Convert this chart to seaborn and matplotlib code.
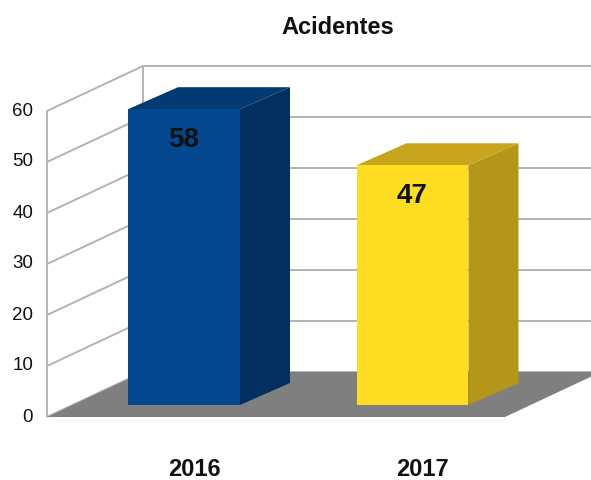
import numpy as np
import pandas as pd
import matplotlib
matplotlib.use('Agg')
from matplotlib import pyplot as plt
from matplotlib.patches import Polygon
import seaborn as sns

# data
years = ['2016', '2017']
accidents = [58, 47]
bar_colors = ['#03488f', '#fddc22']
side_colors = ['#022f5f', '#b69619']
top_colors = ['#033a73', '#c8a51c']
y_ticks = [0, 10, 20, 30, 40, 50, 60]
title = 'Acidentes'

sns.set_style('white')
plt.rcParams['font.family'] = ['Liberation Sans', 'DejaVu Sans']

W, H = 591, 480
fig = plt.figure(figsize=(W / 100, H / 100), dpi=100)
ax = fig.add_axes([0, 0, 1, 1])

df = pd.DataFrame({'year': years, 'n': accidents})
sns.barplot(data=df, x='year', y='n', hue='year', palette=bar_colors,
            saturation=1, width=0.49, legend=False, ax=ax, zorder=4,
            edgecolor='none', linewidth=0)

# pixel scale of the pseudo 3d frame
px_x = 228.5      # pixels per category step
px_v = 5.1        # pixels per unit
x0_pix, v0_pix = 184, 405
ax.set_xlim(-x0_pix / px_x, (W - x0_pix) / px_x)
ax.set_ylim((v0_pix - H) / px_v, v0_pix / px_v)
ax.axis('off')

DX, DY = 96 / px_x, 45 / px_v        # full depth of the box
d0 = 12 / 45                          # depth of the bar front faces
bdx, bdy = 50 / px_x, 22 / px_v       # depth of the bars
XL = (47 - x0_pix) / px_x + d0 * DX   # left wall (front plane)
XR = (505 - x0_pix) / px_x + d0 * DX  # right end of the floor front
vmax = max(y_ticks)


def pt(x, v, d):
    return (x + (d - d0) * DX, v + (d - d0) * DY)


grid_kw = dict(color='#b3b3b3', lw=1.4, zorder=1, solid_capstyle='butt')
for v in y_ticks:
    a, b, c = pt(XL, v, 0), pt(XL, v, 1), pt(XR + 3, v, 1)
    ax.plot([a[0], b[0], c[0]], [a[1], b[1], c[1]], **grid_kw)
    ax.text(a[0] - 14 / px_x, a[1], str(v), ha='right', va='center',
            fontsize=13.5, color='#111111')
for d in (0, 1):
    a, b = pt(XL, 0, d), pt(XL, vmax, d)
    ax.plot([a[0], b[0]], [a[1], b[1]], **grid_kw)

floor = [pt(XL, 0, 0), pt(XR, 0, 0), pt(XR, 0, 1), pt(XL, 0, 1)]
ax.add_patch(Polygon(floor, closed=True, fc='#7f7f7f', ec='none', zorder=2))

for i, p in enumerate(ax.patches[:len(years)]):
    x1 = p.get_x()
    x2 = x1 + p.get_width()
    h = p.get_height()
    side = [(x2, 0), (x2 + bdx, bdy), (x2 + bdx, h + bdy), (x2, h)]
    top = [(x1, h), (x2, h), (x2 + bdx, h + bdy), (x1 + bdx, h + bdy)]
    ax.add_patch(Polygon(side, closed=True, fc=side_colors[i], ec='none', zorder=3))
    ax.add_patch(Polygon(top, closed=True, fc=top_colors[i], ec='none', zorder=3))
    ax.text(x1 + p.get_width() / 2, h - 6, str(accidents[i]), ha='center',
            va='center', fontsize=20, fontweight='bold', color='#111111',
            family=['Liberation Sans Narrow', 'Liberation Sans'], zorder=5)
    ax.text(i + 0.045, (v0_pix - 470) / px_v, years[i], ha='center',
            va='center', fontsize=17, fontweight='bold', color='#111111')

fig.text(338 / W, 1 - 27 / H, title, ha='center', va='center',
         fontsize=17, fontweight='bold', color='#111111')

fig.savefig('out.png', dpi=100)
